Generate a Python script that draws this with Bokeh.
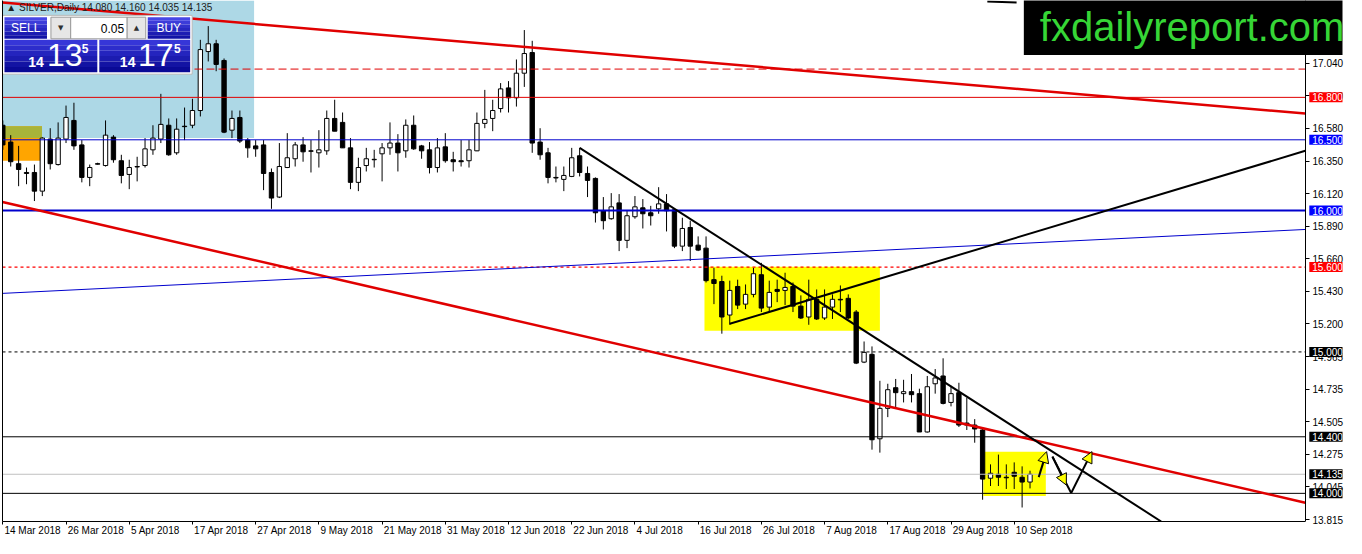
from bokeh.plotting import figure
from bokeh.models import Range1d, LinearAxis, FixedTicker, Label, Arrow, NormalHead
from bokeh.embed import file_html
from bokeh.resources import INLINE

# ---------------- data (bar index = trading day since 14 Mar 2018) ----------------
opens = [16.603,16.484,16.331,16.269,16.269,16.137,16.505,16.325,16.505,16.637,
         16.464,16.234,16.331,16.318,16.519,16.352,16.255,16.311,16.318,16.429,
         16.505,16.603,16.408,16.596,16.603,16.707,17.124,17.179,17.061,16.568,
         16.658,16.498,16.457,16.464,16.269,16.095,16.304,16.366,16.464,16.422,
         16.408,16.422,16.651,16.623,16.443,16.199,16.318,16.359,16.401,16.443,
         16.477,16.422,16.603,16.457,16.429,16.304,16.450,16.359,16.352,16.352,
         16.422,16.616,16.651,16.721,16.867,16.797,16.971,17.117,16.484,16.408,
         16.234,16.220,16.241,16.387,16.262,16.227,15.998,15.942,16.054,15.789,
         15.956,16.019,15.984,16.012,16.047,16.005,15.748,15.880,15.755,15.734,
         15.511,15.498,15.261,15.463,15.338,15.407,15.546,15.317,15.442,15.435,
         15.463,15.324,15.247,15.372,15.240,15.317,15.372,15.379,15.282,14.928,
         14.983,14.386,14.601,14.747,14.705,14.719,14.705,14.434,14.775,14.830,
         14.643,14.712,14.497,14.483,14.448,14.107,14.135,14.114,14.149,14.114,
         14.080]
highs = [16.637,16.533,16.457,16.304,16.325,16.519,16.582,16.623,16.742,16.762,
         16.498,16.325,16.338,16.637,16.533,16.394,16.359,16.380,16.512,16.603,
         16.825,16.651,16.651,16.728,16.790,17.207,17.304,17.207,17.075,16.707,
         16.707,16.512,16.498,16.498,16.297,16.477,16.547,16.484,16.519,16.498,
         16.568,16.707,16.783,16.693,16.512,16.373,16.443,16.429,16.477,16.623,
         16.540,16.644,16.672,16.464,16.484,16.512,16.547,16.415,16.498,16.498,
         16.693,16.853,16.783,16.901,16.915,17.068,17.276,17.200,16.582,16.443,
         16.311,16.311,16.443,16.443,16.311,16.234,16.095,16.123,16.116,15.998,
         16.102,16.081,16.033,16.165,16.116,16.012,15.949,15.928,15.817,15.817,
         15.595,15.539,15.504,15.511,15.477,15.595,15.630,15.504,15.511,15.560,
         15.491,15.400,15.511,15.442,15.442,15.407,15.470,15.407,15.296,15.074,
         15.039,14.796,14.775,14.809,14.803,14.844,14.740,14.830,14.879,14.955,
         14.761,14.782,14.677,14.525,14.469,14.205,14.274,14.205,14.219,14.191,
         14.160]
lows = [16.429,16.311,16.172,16.186,16.067,16.102,16.290,16.318,16.477,16.429,
        16.199,16.172,16.325,16.311,16.338,16.192,16.151,16.206,16.304,16.394,
        16.477,16.387,16.394,16.498,16.582,16.665,17.054,16.985,16.547,16.512,
        16.477,16.373,16.380,16.144,16.012,16.088,16.300,16.311,16.345,16.269,
        16.304,16.394,16.561,16.443,16.151,16.137,16.276,16.304,16.206,16.394,
        16.276,16.373,16.429,16.366,16.262,16.269,16.338,16.276,16.311,16.304,
        16.420,16.582,16.561,16.693,16.693,16.735,16.874,16.408,16.359,16.192,
        16.199,16.137,16.236,16.241,16.095,15.915,15.866,15.935,15.713,15.734,
        15.942,15.873,15.894,15.977,15.852,15.734,15.713,15.643,15.713,15.491,
        15.338,15.129,15.192,15.303,15.303,15.386,15.282,15.282,15.352,15.331,
        15.282,15.233,15.192,15.226,15.226,15.233,15.282,15.233,14.914,14.921,
        14.309,14.288,14.539,14.601,14.643,14.643,14.434,14.430,14.705,14.629,
        14.615,14.469,14.448,14.358,13.955,14.052,14.052,14.031,14.031,13.900,
        14.035]
closes = [16.464,16.345,16.290,16.262,16.137,16.512,16.331,16.512,16.658,16.457,
          16.234,16.304,16.328,16.533,16.359,16.248,16.304,16.308,16.436,16.512,
          16.609,16.394,16.575,16.593,16.707,17.138,17.179,17.033,16.554,16.651,
          16.491,16.443,16.436,16.262,16.088,16.311,16.373,16.464,16.415,16.419,
          16.429,16.651,16.561,16.443,16.199,16.304,16.366,16.362,16.443,16.477,
          16.408,16.603,16.436,16.422,16.304,16.443,16.352,16.345,16.345,16.429,
          16.616,16.644,16.707,16.860,16.797,16.971,17.110,16.477,16.394,16.234,
          16.230,16.248,16.373,16.269,16.213,15.984,15.928,16.026,15.789,15.963,
          16.026,15.977,15.963,16.047,15.998,15.748,15.873,15.748,15.720,15.504,
          15.484,15.247,15.435,15.331,15.407,15.553,15.310,15.421,15.428,15.456,
          15.324,15.240,15.372,15.233,15.317,15.372,15.368,15.240,14.921,14.997,
          14.379,14.601,14.733,14.712,14.719,14.698,14.434,14.754,14.816,14.636,
          14.705,14.483,14.483,14.455,14.101,14.142,14.114,14.110,14.121,14.080,
          14.135]

x_tick_idx = [0, 8, 16, 24, 32, 40, 48, 56, 64, 72, 80, 88, 96, 104, 112, 120, 128]
x_tick_labels = ["14 Mar 2018", "26 Mar 2018", "5 Apr 2018", "17 Apr 2018", "27 Apr 2018",
                 "9 May 2018", "21 May 2018", "31 May 2018", "12 Jun 2018", "22 Jun 2018",
                 "4 Jul 2018", "16 Jul 2018", "26 Jul 2018", "7 Aug 2018", "17 Aug 2018",
                 "29 Aug 2018", "10 Sep 2018"]
y_tick_labels = ["17.040", "16.810", "16.580", "16.350", "16.120", "15.890", "15.660",
                 "15.430", "15.200", "14.965", "14.735", "14.505", "14.275", "14.045", "13.815"]

# horizontal levels
level_prices = [17.000, 16.800, 16.500, 16.000, 15.600, 15.000, 14.400, 14.135, 14.000]
level_colors = ["#E00000", "#E00000", "#0000CD", "#0000CD", "#FF0000", "black", "black", "#C0C0C0", "black"]
level_widths = [1, 1, 1, 2, 1.2, 1, 1, 1, 1]
level_dashes = ["8 4", "solid", "solid", "solid", "3 3", "3 3", "solid", "solid", "solid"]
tag_prices = [16.800, 16.500, 16.000, 15.600, 15.000, 14.400, 14.135, 14.000]
tag_colors = ["#FF0000", "#0000FF", "#0000FF", "#FF0000", "black", "black", "black", "black"]

# trend lines (bar index, price)
trend_x0 = [-0.04, -0.04, -0.04, 73.0, 92.0, 124.6]
trend_y0 = [17.471, 16.060, 15.414, 16.443, 15.199, 17.478]
trend_x1 = [164.84, 164.84, 164.84, 146.6, 164.84, 128.3]
trend_y1 = [16.686, 13.934, 15.866, 13.801, 16.422, 17.471]
trend_colors = ["#E00000", "#E00000", "#0000CD", "black", "black", "black"]
trend_widths = [2.5, 2.5, 1, 2, 2, 2]

# rectangles (bar index, price)
rect_left = [-0.04, -0.04, -0.04, 88.8, 124.1]
rect_right = [31.8, 4.96, 4.96, 111.0, 132.0]
rect_bottom = [16.512, 16.352, 16.512, 15.150, 13.982]
rect_top = [17.485, 16.596, 16.596, 15.602, 14.295]
rect_colors = ["#ADD8E6", "#FFA500", "#A8B43A", "#FFFF00", "#FFFF00"]

# zigzag forecast arrows
zig_x = [131.1, 132.1, 132.84, 134.59, 135.21, 137.84]
zig_y = [14.115, 14.295, 14.260, 14.059, 14.003, 14.295]

# ---------------- figure ----------------
W = 1346
S = 30                 # price labels are drawn S px left of the frame's right edge
FW = W - 2 - 11        # expected frame width
AXPX = FW - S - 7      # price-axis line inside the frame
X0, X_AX = -0.04, 164.84
PPI = AXPX / (X_AX - X0)
X_END = X0 + FW / PPI
Y0, Y1 = 13.801, 17.485
FONT = "Liberation Sans"

p = figure(width=W, height=538, x_range=Range1d(X0, X_END), y_range=Range1d(Y0, Y1),
           output_backend="svg", toolbar_location=None, x_axis_location=None,
           y_axis_location=None, min_border_left=2, min_border_top=0,
           min_border_right=0, min_border_bottom=0)
p.grid.visible = False
p.outline_line_color = None
p.background_fill_color = "white"
p.border_fill_color = "white"

yticks = [float(s) for s in y_tick_labels]
ax_lab = LinearAxis(ticker=FixedTicker(ticks=yticks),
                    major_label_overrides={float(s): s for s in y_tick_labels},
                    major_tick_in=0, major_tick_out=0, major_tick_line_color=None,
                    minor_tick_line_color=None, axis_line_color=None,
                    major_label_standoff=-S, major_label_text_font=FONT,
                    major_label_text_font_size="10px", major_label_text_color="black")
p.add_layout(ax_lab, "right")
ax_tick = LinearAxis(ticker=FixedTicker(ticks=yticks), fixed_location=X_AX,
                     major_tick_in=0, major_tick_out=4, minor_tick_line_color=None,
                     axis_line_color="black", major_label_standoff=-4,
                     major_label_text_font_size="1px", major_label_text_alpha=0)
p.add_layout(ax_tick, "right")
ax_left = LinearAxis(ticker=FixedTicker(ticks=[]), major_tick_out=0, major_tick_in=0,
                     minor_tick_line_color=None, axis_line_color="black",
                     major_label_text_font_size="1px")
p.add_layout(ax_left, "left")

# bottom axis: tick marks at bars, labels starting right of the tick
tick_axis = LinearAxis(ticker=FixedTicker(ticks=x_tick_idx), bounds=(X0, X_AX),
                       major_label_text_font_size="1px", major_label_text_alpha=0,
                       major_label_standoff=-4, major_tick_in=0, major_tick_out=3,
                       minor_tick_line_color=None, axis_line_color="black")
p.add_layout(tick_axis, "below")

cw = {d: 5.56 for d in "0123456789"}
cw.update({" ": 2.78, "M": 8.33, "a": 5.56, "r": 3.33, "A": 6.67, "p": 5.56, "y": 5.0,
           "J": 5.0, "u": 5.56, "n": 5.56, "l": 2.22, "g": 5.56, "S": 6.67, "e": 5.56})
def tw(s):
    return sum(cw.get(ch, 5.56) for ch in s)
centers = [round(t + (tw(s) / 2 + 1.5) / PPI, 3) for t, s in zip(x_tick_idx, x_tick_labels)]
label_axis = LinearAxis(ticker=FixedTicker(ticks=centers),
                        major_label_overrides={c: s for c, s in zip(centers, x_tick_labels)},
                        axis_line_color=None, major_tick_line_color=None, minor_tick_line_color=None,
                        major_tick_out=0, major_tick_in=0,
                        major_label_standoff=0, major_label_text_font=FONT,
                        major_label_text_font_size="10px", major_label_text_color="black")
p.add_layout(label_axis, "below")

# background rectangles
p.quad(left=rect_left, right=rect_right, bottom=rect_bottom, top=rect_top,
       fill_color=rect_colors, line_color=None)

# candles
idx = list(range(len(opens)))
up = [c >= o for o, c in zip(opens, closes)]
p.segment(x0=idx, y0=lows, x1=idx, y1=highs, line_color="black", line_width=1)
p.vbar(x=idx, width=0.55, top=[max(o, c) for o, c in zip(opens, closes)],
       bottom=[min(o, c) for o, c in zip(opens, closes)],
       fill_color=["white" if u else "black" for u in up], line_color="black", line_width=1)

# horizontal levels
for pr, col, lw, dash in zip(level_prices, level_colors, level_widths, level_dashes):
    p.segment(x0=[X0], y0=[pr], x1=[X_AX], y1=[pr], line_color=col, line_width=lw, line_dash=dash)

# trend lines
for x0, y0, x1, y1, col, lw in zip(trend_x0, trend_y0, trend_x1, trend_y1, trend_colors, trend_widths):
    p.segment(x0=[x0], y0=[y0], x1=[x1], y1=[y1], line_color=col, line_width=lw)

# zigzag
p.segment(x0=[zig_x[2]], y0=[zig_y[2]], x1=[zig_x[4]], y1=[zig_y[4]], line_color="black", line_width=2)
for k in (0, 2, 4):
    p.add_layout(Arrow(end=NormalHead(size=11, fill_color="#FFFF00", line_color="black", line_width=1),
                       x_start=zig_x[k], y_start=zig_y[k], x_end=zig_x[k + 1], y_end=zig_y[k + 1],
                       line_color="black", line_width=2))

# ---------------- one-click trading panel ----------------
def hexmix(c1, c2, t):
    a = [int(c1[i:i + 2], 16) for i in (1, 3, 5)]
    b = [int(c2[i:i + 2], 16) for i in (1, 3, 5)]
    return "#%02x%02x%02x" % tuple(int(round(a[j] + (b[j] - a[j]) * t)) for j in range(3))

def gradient_box(l, r, t, b, ctop, cbot, n=6):
    L, R, T, B, C = [], [], [], [], []
    for k in range(n):
        L.append(l); R.append(r)
        T.append(t - (t - b) * k / n); B.append(t - (t - b) * (k + 1) / n)
        C.append(hexmix(ctop, cbot, k / (n - 1)))
    p.quad(left=L, right=R, top=T, bottom=B, fill_color=C, line_color=None)

p.quad(left=[-0.04], right=[23.96], top=[17.380], bottom=[16.964], fill_color="white", line_color="#B8B8B8")
gradient_box(0.21, 5.59, 17.367, 17.214, "#4646E6", "#1212A6")
gradient_box(18.34, 23.71, 17.367, 17.214, "#4646E6", "#1212A6")
gradient_box(0.21, 11.96, 17.207, 16.977, "#3636D8", "#0A0A96")
gradient_box(12.21, 23.71, 17.207, 16.977, "#3636D8", "#0A0A96")
p.quad(left=[6.09, 15.71], right=[8.59, 18.09], top=[17.367] * 2, bottom=[17.214] * 2,
       fill_color="#E6E6E6", line_color="#9A9A9A")
p.quad(left=[8.59], right=[15.71], top=[17.367], bottom=[17.214], fill_color="white", line_color="#9A9A9A")

def lab(x, y, text, size, color="white", align="center", bold=False, font=FONT):
    p.add_layout(Label(x=x, y=y, text=text, text_font=font, text_font_size=size, text_color=color,
                       text_align=align, text_baseline="middle",
                       text_font_style="bold" if bold else "normal"))

lab(2.9, 17.290, "SELL", "12px")
lab(21.0, 17.290, "BUY", "12px")
lab(15.35, 17.290, "0.05", "12px", color="black", align="right")
lab(7.34, 17.290, "▼", "7px", color="#303030", font="DejaVu Sans")
lab(16.9, 17.290, "▲", "7px", color="#303030", font="DejaVu Sans")
lab(4.2, 17.050, "14", "14px", bold=True)
lab(5.6, 17.098, "13", "32px", align="left")
lab(10.4, 17.145, "5", "12px", bold=True)
lab(15.8, 17.050, "14", "14px", bold=True)
lab(17.1, 17.098, "17", "32px", align="left")
lab(22.1, 17.145, "5", "12px", bold=True)

# chart header
lab(0.45, 17.432, "▲ SILVER,Daily  14.080 14.160 14.035 14.135", "10px", color="#202020", align="left")

# price tags on the axis
for pr, col in zip(tag_prices, tag_colors):
    p.add_layout(Label(x=X_AX, y=pr, x_offset=4, text="%.3f" % pr, text_font=FONT, text_font_size="10px",
                       text_color="white", background_fill_color=col, text_align="left",
                       text_baseline="middle", padding=(3, 1)))

# watermark
p.add_layout(Label(x=X_AX - 280 / PPI, y=17.297, text="fxdailyreport.com", text_font=FONT,
                   text_font_size="40px", text_color="#36D636", background_fill_color="black",
                   text_align="left", text_baseline="middle", padding=(16, 10, 6, 6)))

open("out.html", "w").write(file_html(p, INLINE))
